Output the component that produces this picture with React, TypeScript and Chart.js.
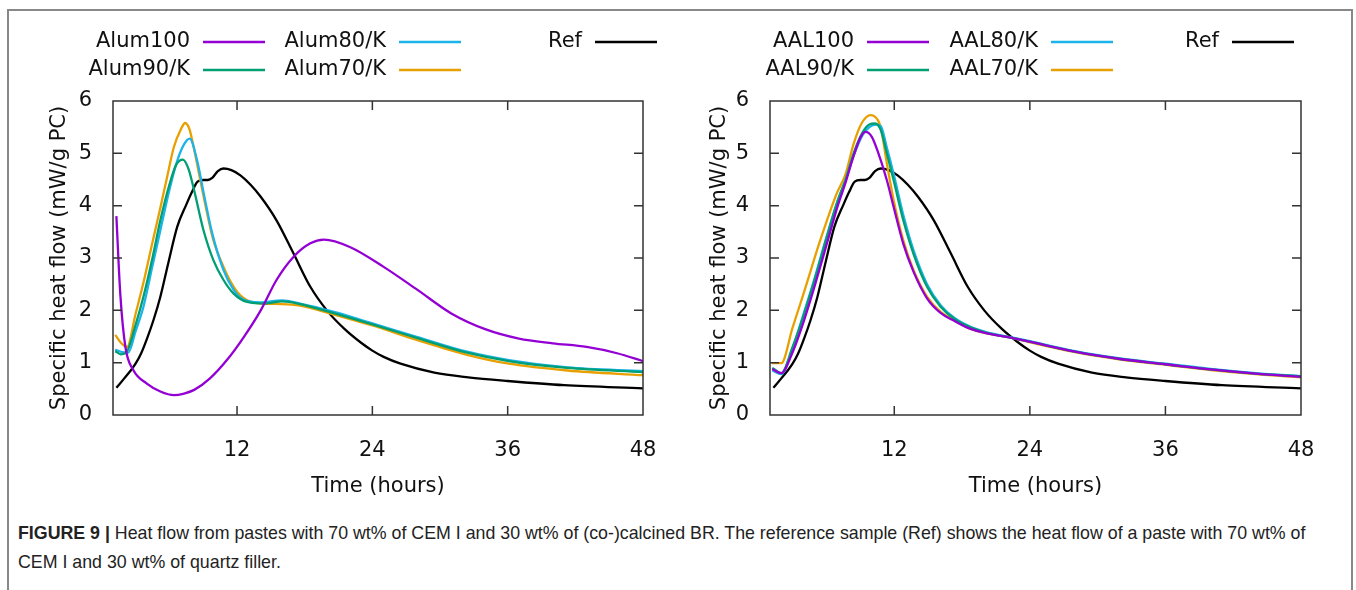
import React, { useEffect, useRef } from "react";
import { Chart, registerables } from "chart.js";

Chart.register(...registerables);

// ---------- data ----------
const xTickValues = [12, 24, 36, 48];
const yTickStep = 1;

const refTime = [1.3, 2.0, 2.5, 3.0, 3.5, 4.0, 4.6, 5.2, 5.9, 6.7, 7.5, 8.0, 8.5, 9.0, 9.4, 9.8, 10.3, 10.8, 11.5, 12.3, 13.2, 14.1, 15.5, 17.0, 18.5, 20.0, 21.5, 23.0, 24.0, 25.0, 26.5, 29.5, 32.5, 36.0, 41.0, 48.0];
const refFlow = [0.52, 0.7, 0.83, 0.98, 1.18, 1.45, 1.82, 2.26, 2.9, 3.6, 4.02, 4.26, 4.46, 4.49, 4.49, 4.53, 4.66, 4.71, 4.68, 4.58, 4.4, 4.17, 3.72, 3.09, 2.45, 1.99, 1.65, 1.38, 1.23, 1.11, 0.98, 0.81, 0.72, 0.65, 0.57, 0.51];

const alum100Time = [1.3, 1.65, 2.1, 2.8, 4.0, 5.2, 6.4, 7.3, 8.2, 9.6, 11.1, 12.6, 14.1, 15.5, 17.0, 18.5, 19.7, 22.0, 25.0, 28.0, 31.0, 34.0, 37.0, 40.0, 43.0, 45.7, 48.0];
const alum100Flow = [3.8, 2.3, 1.3, 0.86, 0.6, 0.45, 0.38, 0.41, 0.48, 0.7, 1.05, 1.49, 2.0, 2.58, 3.02, 3.28, 3.35, 3.21, 2.83, 2.39, 1.94, 1.64, 1.46, 1.37, 1.3, 1.18, 1.03];

const alum90Time = [1.2, 1.7, 2.2, 3.0, 3.7, 4.5, 5.2, 6.0, 6.6, 7.2, 7.7, 8.2, 9.0, 9.9, 10.8, 11.7, 12.9, 14.5, 16.0, 17.6, 20.5, 24.0, 28.0, 32.4, 36.1, 41.3, 48.0];
const alum90Flow = [1.22, 1.16, 1.2, 1.72, 2.26, 3.0, 3.72, 4.4, 4.78, 4.88, 4.7, 4.29, 3.55, 2.96, 2.58, 2.32, 2.16, 2.13, 2.17, 2.12, 1.95, 1.73, 1.47, 1.19, 1.03, 0.9, 0.82];

const alum80Time = [1.2, 1.8, 2.35, 3.0, 3.7, 4.5, 5.2, 6.0, 6.7, 7.3, 7.8, 8.45, 9.05, 9.8, 10.8, 11.7, 12.6, 14.0, 16.0, 17.6, 20.6, 24.0, 28.0, 32.4, 36.1, 41.3, 48.0];
const alum80Flow = [1.25, 1.2, 1.19, 1.6, 2.07, 2.85, 3.53, 4.3, 4.86, 5.17, 5.28, 4.87, 4.23, 3.47, 2.77, 2.39, 2.2, 2.15, 2.19, 2.13, 1.97, 1.75, 1.49, 1.21, 1.05, 0.91, 0.84];

const alum70Time = [1.2, 1.7, 2.25, 3.0, 3.7, 4.5, 5.2, 5.8, 6.4, 7.0, 7.4, 7.8, 8.15, 8.75, 9.35, 9.9, 10.8, 11.7, 12.6, 14.1, 16.0, 17.6, 20.6, 24.0, 28.0, 32.4, 36.1, 41.3, 48.0];
const alum70Flow = [1.53, 1.38, 1.3, 1.93, 2.53, 3.3, 3.96, 4.55, 5.12, 5.45, 5.58, 5.45, 5.12, 4.48, 3.85, 3.34, 2.83, 2.45, 2.23, 2.13, 2.12, 2.09, 1.92, 1.71, 1.43, 1.15, 0.98, 0.85, 0.76];

const aal100Time = [1.2, 2.0, 3.0, 4.0, 5.0, 6.0, 7.0, 7.7, 8.4, 9.0, 9.45, 10.0, 10.5, 11.35, 11.95, 12.8, 13.7, 14.9, 16.1, 17.3, 18.7, 20.2, 22.5, 24.0, 28.0, 32.0, 36.0, 40.0, 44.0, 48.0];
const aal100Flow = [0.88, 0.8, 1.2, 1.8, 2.5, 3.25, 4.0, 4.45, 4.95, 5.3, 5.41, 5.32, 5.06, 4.48, 3.97, 3.27, 2.74, 2.23, 1.95, 1.8, 1.65, 1.56, 1.47, 1.4, 1.21, 1.07, 0.97, 0.87, 0.79, 0.73];

const aal90Time = [1.2, 2.0, 3.0, 4.0, 5.0, 6.0, 7.0, 7.7, 8.4, 9.2, 9.8, 10.3, 10.8, 11.35, 11.95, 12.8, 13.7, 14.9, 16.1, 17.3, 18.7, 20.2, 22.5, 24.0, 28.0, 32.0, 36.0, 40.0, 44.0, 48.0];
const aal90Flow = [0.9, 0.8, 1.3, 1.92, 2.62, 3.38, 4.1, 4.5, 5.0, 5.4, 5.55, 5.57, 5.45, 4.99, 4.48, 3.72, 3.08, 2.45, 2.07, 1.84, 1.68, 1.57, 1.47, 1.4, 1.21, 1.07, 0.97, 0.87, 0.79, 0.74];

const aal80Time = [1.2, 2.0, 3.0, 4.0, 5.0, 6.0, 7.0, 7.7, 8.4, 9.2, 9.8, 10.4, 10.8, 11.35, 11.95, 12.8, 13.7, 14.9, 16.1, 17.3, 18.7, 20.2, 22.5, 24.0, 28.0, 32.0, 36.0, 40.0, 44.0, 48.0];
const aal80Flow = [0.85, 0.78, 1.28, 1.95, 2.65, 3.4, 4.1, 4.5, 4.95, 5.35, 5.5, 5.55, 5.52, 5.1, 4.6, 3.82, 3.15, 2.5, 2.1, 1.86, 1.69, 1.58, 1.48, 1.41, 1.22, 1.08, 0.98, 0.88, 0.8, 0.74];

const aal70Time = [1.15, 2.0, 3.0, 4.0, 5.45, 6.9, 7.7, 8.4, 9.1, 9.9, 10.5, 10.8, 11.35, 11.95, 12.8, 13.7, 14.9, 16.1, 17.3, 18.7, 20.2, 22.5, 24.0, 28.0, 32.0, 36.0, 40.0, 44.0, 48.0];
const aal70Flow = [0.99, 0.99, 1.67, 2.34, 3.34, 4.23, 4.61, 5.18, 5.57, 5.73, 5.65, 5.5, 4.8, 4.1, 3.34, 2.77, 2.26, 1.97, 1.81, 1.65, 1.56, 1.47, 1.39, 1.2, 1.06, 0.96, 0.86, 0.78, 0.72];

const leftLabels = ["Alum100", "Alum90/K", "Alum80/K", "Alum70/K", "Ref"];
const rightLabels = ["AAL100", "AAL90/K", "AAL80/K", "AAL70/K", "Ref"];

const xTitle = "Time (hours)";
const yTitle = "Specific heat flow (mW/g PC)";
const captionBold = "FIGURE 9 |";
const captionLine1 = " Heat flow from pastes with 70 wt% of CEM I and 30 wt% of (co-)calcined BR. The reference sample (Ref) shows the heat flow of a paste with 70 wt% of";
const captionLine2 = "CEM I and 30 wt% of quartz filler.";

// ---------- style ----------
const COLORS = ["#9400D3", "#009E73", "#1CB3EA", "#E8A000", "#000000"];
// legend slots [col, row] in order of series
const SLOTS = [[0, 0], [0, 1], [1, 0], [1, 1], [2, 0]];
const FONT = "'DejaVu Sans', Verdana, sans-serif";

const zip = (t: number[], v: number[]) => t.map((x, i) => ({ x, y: v[i] }));

const framePlugin = {
  id: "gnuFrame",
  afterDatasetsDraw(chart: any) {
    const { ctx, chartArea: a, scales } = chart;
    const xs = scales.x;
    const ys = scales.y;
    ctx.save();
    ctx.strokeStyle = "#333";
    ctx.lineWidth = 1.5;
    ctx.strokeRect(a.left, a.top, a.right - a.left, a.bottom - a.top);
    const len = 9;
    ctx.beginPath();
    xs.ticks.forEach((t: any) => {
      if (t.value <= xs.min || t.value >= xs.max) return;
      const px = xs.getPixelForValue(t.value);
      ctx.moveTo(px, a.bottom);
      ctx.lineTo(px, a.bottom - len);
      ctx.moveTo(px, a.top);
      ctx.lineTo(px, a.top + len);
    });
    ys.ticks.forEach((t: any) => {
      if (t.value <= ys.min || t.value >= ys.max) return;
      const py = ys.getPixelForValue(t.value);
      ctx.moveTo(a.left, py);
      ctx.lineTo(a.left + len, py);
      ctx.moveTo(a.right, py);
      ctx.lineTo(a.right - len, py);
    });
    ctx.stroke();
    ctx.restore();
  },
};

const legendPlugin = {
  id: "gnuLegend",
  afterDraw(chart: any, _args: any, opts: any) {
    const { ctx } = chart;
    ctx.save();
    ctx.font = `21px ${FONT}`;
    ctx.textAlign = "right";
    ctx.textBaseline = "middle";
    chart.data.datasets.forEach((ds: any) => {
      const [c, r] = ds.slot;
      const x0 = opts.cols[c];
      const y = opts.rows[r];
      ctx.fillStyle = "#111";
      ctx.fillText(ds.label, x0 - 13, y);
      ctx.strokeStyle = ds.borderColor;
      ctx.lineWidth = 2.5;
      ctx.beginPath();
      ctx.moveTo(x0, y);
      ctx.lineTo(x0 + opts.lineLen, y);
      ctx.stroke();
    });
    ctx.restore();
  },
};

function Panel(props: {
  left: number;
  width: number;
  axisWidth: number;
  padRight: number;
  yTitlePad: number;
  labels: string[];
  series: { x: number; y: number }[][];
  legendCols: number[];
}) {
  const ref = useRef<HTMLCanvasElement>(null);
  useEffect(() => {
    const canvas = ref.current!;
    const font = { family: FONT, size: 21 };
    const datasets = props.series.map((pts, i) => ({
      label: props.labels[i],
      data: pts,
      borderColor: COLORS[i],
      backgroundColor: COLORS[i],
      borderWidth: 2.3,
      pointRadius: 0,
      cubicInterpolationMode: "monotone" as const,
      fill: false,
      slot: SLOTS[i],
    }));
    const chart = new Chart(canvas, {
      type: "line",
      data: { datasets: datasets as any },
      options: {
        animation: false,
        responsive: false,
        devicePixelRatio: 1,
        layout: { padding: { left: 0, right: props.padRight, top: 101, bottom: 0 } },
        plugins: {
          legend: { display: false },
          tooltip: { enabled: false },
          gnuLegend: { cols: props.legendCols, rows: [42, 70], lineLen: 62 },
        } as any,
        scales: {
          x: {
            type: "linear",
            min: 1,
            max: 48,
            afterBuildTicks: (s: any) => {
              s.ticks = xTickValues.map((v) => ({ value: v }));
            },
            afterFit: (s: any) => {
              s.height = 95;
            },
            grid: { display: false },
            border: { display: false },
            ticks: { font, color: "#111", padding: 15, maxRotation: 0, autoSkip: false },
            title: { display: true, text: xTitle, font, color: "#111", padding: { top: 0, bottom: 11 } },
          },
          y: {
            type: "linear",
            min: 0,
            max: 6,
            afterFit: (s: any) => {
              s.width = props.axisWidth;
            },
            grid: { display: false },
            border: { display: false },
            ticks: { font, color: "#111", padding: 13, stepSize: yTickStep },
            title: { display: true, text: yTitle, font, color: "#111", padding: { top: props.yTitlePad, bottom: 0 } },
          },
        },
      },
      plugins: [framePlugin, legendPlugin],
    });
    return () => chart.destroy();
  }, []);
  return (
    <canvas
      ref={ref}
      width={props.width}
      height={510}
      style={{ position: "absolute", left: props.left, top: 0, width: props.width, height: 510 }}
    />
  );
}

export default function App() {
  const leftSeries = [
    zip(alum100Time, alum100Flow),
    zip(alum90Time, alum90Flow),
    zip(alum80Time, alum80Flow),
    zip(alum70Time, alum70Flow),
    zip(refTime, refFlow),
  ];
  const rightSeries = [
    zip(aal100Time, aal100Flow),
    zip(aal90Time, aal90Flow),
    zip(aal80Time, aal80Flow),
    zip(aal70Time, aal70Flow),
    zip(refTime, refFlow),
  ];
  return (
    <div style={{ position: "absolute", left: 0, top: 0, width: 1356, height: 590, background: "#fff", overflow: "hidden" }}>
      <div
        style={{
          position: "absolute",
          left: 7,
          top: 9,
          width: 1342,
          height: 640,
          border: "2px solid #888",
        }}
      />
      <Panel
        left={0}
        width={678}
        axisWidth={113}
        padRight={35}
        yTitlePad={47}
        labels={leftLabels}
        series={leftSeries}
        legendCols={[203, 399, 595]}
      />
      <Panel
        left={678}
        width={678}
        axisWidth={92}
        padRight={55}
        yTitlePad={29}
        labels={rightLabels}
        series={rightSeries}
        legendCols={[189, 373, 554]}
      />
      <div
        style={{
          position: "absolute",
          left: 18,
          top: 519,
          fontFamily: "'Liberation Sans', Arial, sans-serif",
          fontSize: 17.8,
          lineHeight: "29px",
          color: "#222",
          whiteSpace: "nowrap",
        }}
      >
        <b>{captionBold}</b>
        {captionLine1}
        <br />
        {captionLine2}
      </div>
    </div>
  );
}
